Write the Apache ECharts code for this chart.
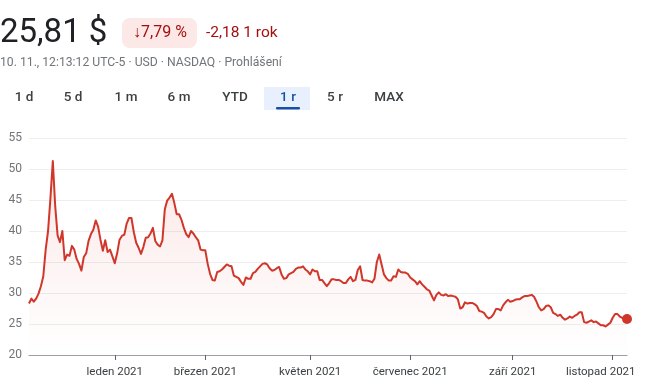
<!DOCTYPE html>
<html>
<head>
<meta charset="utf-8">
<script src="https://cdn.jsdelivr.net/npm/echarts@6/dist/echarts.min.js"></script>
<style>
html,body{margin:0;padding:0;background:#fff;}
#chart{width:650px;height:385px;}
</style>
</head>
<body>
<div id="chart"></div>
<script>
// ---- data ----
const startDate = '2020-11-10';
const holidays = ['2020-11-26','2020-12-25','2021-01-01','2021-01-18','2021-02-15','2021-04-02','2021-05-31','2021-07-05','2021-09-06'];
const prices = [
28.3,29.1,28.6,29.1,29.9,31.1,32.7,37.0,40.0,45.3,
51.3,44.0,39.3,38.2,40.0,35.3,36.2,36.0,37.6,37.0,
35.5,34.7,33.6,35.8,36.4,38.4,39.5,40.2,41.7,40.7,
38.6,36.8,38.5,36.6,37.0,35.9,34.8,36.4,38.6,39.2,
39.4,41.2,42.1,42.1,39.8,38.1,37.3,36.3,37.4,38.9,
39.0,39.6,40.5,38.4,37.8,37.5,38.5,43.5,44.9,45.4,
46.0,44.5,42.7,42.7,41.8,40.5,39.5,39.0,40.0,39.6,
39.0,38.5,37.0,36.9,36.9,34.7,33.1,32.1,32.0,33.4,
33.5,33.8,34.2,34.6,34.4,34.3,32.8,32.6,32.4,31.8,
31.3,32.5,32.3,32.3,33.2,33.4,33.9,34.3,34.7,34.8,
34.6,34.0,33.6,33.7,34.0,34.2,33.0,32.3,32.4,33.0,
33.2,33.4,33.9,34.1,34.1,34.3,33.8,33.5,33.0,33.8,
33.5,33.5,32.1,32.1,31.6,31.1,31.6,32.2,32.2,32.1,
32.1,31.9,31.6,31.6,32.2,32.6,31.9,32.1,33.7,34.3,
32.1,32.0,32.0,31.9,31.7,32.3,35.0,36.2,34.6,33.0,
32.4,32.0,32.0,32.7,32.6,33.8,33.4,33.3,33.3,33.1,
32.5,32.2,31.9,31.4,31.9,31.4,31.0,30.6,30.4,29.6,
28.8,29.7,30.1,29.7,29.6,29.8,29.5,29.6,29.5,29.4,
29.0,27.5,27.7,28.5,28.3,28.4,28.4,28.2,27.9,27.1,
27.0,26.8,26.2,25.9,26.1,26.6,27.4,27.4,27.2,28.0,
28.5,28.9,28.6,28.7,28.9,29.0,29.0,29.3,29.5,29.5,
29.6,29.7,29.4,28.6,27.7,27.2,27.4,27.9,28.0,27.7,
26.8,26.6,26.3,26.5,26.0,25.7,25.9,26.2,26.0,26.3,
26.5,26.9,26.9,25.3,25.2,25.4,25.6,25.3,25.4,25.1,
24.8,24.8,24.6,24.9,25.2,26.0,26.6,26.6,26.2,26.0,
25.9,25.81
];
const tickDates = ['2021-01-04','2021-03-01','2021-05-03','2021-07-01','2021-09-01','2021-11-01'];
const tickLabels = ['leden 2021','březen 2021','květen 2021','červenec 2021','září 2021','listopad 2021'];
const yTicks = [20,25,30,35,40,45,50,55];
const tabs = ['1 d','5 d','1 m','6 m','YTD','1 r','5 r','MAX'];

// trading-day categories
function tradingDays(start, n, hol) {
  const out = [];
  const d = new Date(start + 'T00:00:00Z');
  while (out.length < n) {
    const s = d.toISOString().slice(0, 10);
    const wd = d.getUTCDay();
    if (wd !== 0 && wd !== 6 && hol.indexOf(s) < 0) out.push(s);
    d.setUTCDate(d.getUTCDate() + 1);
  }
  return out;
}
const dates = tradingDays(startDate, prices.length, holidays);

const RED = '#d0372a';
const chart = echarts.init(document.getElementById('chart'), null, {renderer: 'canvas'});
const isTick = (i) => tickDates.indexOf(dates[i]) >= 0;

const tabX = [24, 73, 126, 179, 235, 288, 335, 389];
const graphics = [
  {type:'text', style:{text:'25,81 $', x:0, y:34, font:'400 33px Roboto', fill:'#202124', textVerticalAlign:'middle'}},
  {type:'rect', shape:{x:122, y:18, width:75, height:30, r:8}, style:{fill:'#fce8e6'}},
  {type:'text', style:{text:'↓7,79 %', x:160, y:33, font:'400 16px Roboto', fill:'#a50e0e', textAlign:'center', textVerticalAlign:'middle'}},
  {type:'text', style:{text:'-2,18 1 rok', x:206, y:33, font:'400 15.5px Roboto', fill:'#a50e0e', textVerticalAlign:'middle'}},
  {type:'text', style:{text:'10. 11., 12:13:12 UTC-5 · USD · NASDAQ · Prohlášení', x:0, y:63, font:'400 12.2px Roboto', fill:'#70757a', textVerticalAlign:'middle'}},
  {type:'rect', shape:{x:264, y:87, width:46, height:23}, style:{fill:'#e8f0fe'}},
  {type:'rect', shape:{x:276, y:107, width:24, height:2.5, r:1}, style:{fill:'#174ea6'}}
];
tabs.forEach((t, i) => {
  graphics.push({type:'text', style:{text:t, x:tabX[i], y:98, font:'500 13.5px Roboto', fill: t === '1 r' ? '#174ea6' : '#3c4043', textAlign:'center', textVerticalAlign:'middle'}});
});

const option = {
  animation: false,
  backgroundColor: '#fff',
  graphic: graphics,
  grid: {left: 29, right: 23, top: 138, bottom: 30, containLabel: false},
  xAxis: {
    type: 'category',
    data: dates,
    boundaryGap: false,
    axisLine: {show: true, lineStyle: {color: '#9aa0a6', width: 1}},
    axisTick: {show: true, interval: (i) => isTick(i), length: 5, lineStyle: {color: '#5f6368', width: 1}},
    axisLabel: {
      interval: (i) => isTick(i),
      formatter: (v) => {
        const k = tickDates.indexOf(v);
        if (k < 0) return '';
        return k === tickDates.length - 1 ? '{last|' + tickLabels[k] + '}' : tickLabels[k];
      },
      color: '#3c4043', fontSize: 11.5, fontFamily: 'Roboto', margin: 11,
      rich: {last: {color: '#3c4043', fontSize: 11.5, fontFamily: 'Roboto', padding: [0, 24, 0, 0]}}
    },
    splitLine: {show: false}
  },
  yAxis: {
    type: 'value',
    min: yTicks[0], max: yTicks[yTicks.length - 1], interval: 5,
    axisLine: {show: false}, axisTick: {show: false},
    axisLabel: {color: '#70757a', fontSize: 12, fontFamily: 'Roboto', margin: 7},
    splitLine: {lineStyle: {color: '#eceef0', width: 1}}
  },
  series: [{
    type: 'line',
    data: prices,
    showSymbol: false,
    smooth: false,
    lineStyle: {color: RED, width: 2, join: 'round'},
    itemStyle: {color: RED},
    areaStyle: {
      origin: 'start',
      color: new echarts.graphic.LinearGradient(0, 0, 0, 1, [
        {offset: 0, color: 'rgba(217,48,37,0.16)'},
        {offset: 1, color: 'rgba(217,48,37,0.0)'}
      ])
    },
    markPoint: {
      symbol: 'circle', symbolSize: 10,
      itemStyle: {color: RED},
      label: {show: false},
      data: [{coord: [dates[dates.length - 1], prices[prices.length - 1]]}]
    }
  }]
};
chart.setOption(option);
</script>
</body>
</html>
